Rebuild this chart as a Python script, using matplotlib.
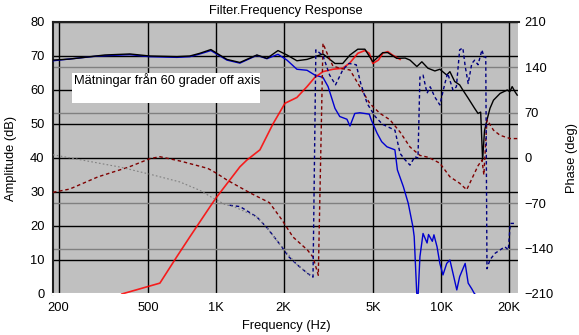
import matplotlib
matplotlib.use("Agg")
import matplotlib.pyplot as plt
from matplotlib.patches import Rectangle
import numpy as np

plt.rcParams['font.family'] = ['Liberation Sans', 'DejaVu Sans']
plt.rcParams['font.size'] = 9.3

# total response (black)
sum_f = [189, 224, 321, 415, 509, 671, 766, 849, 950, 1119, 1278, 1521, 1685, 1887,
         2068, 2290, 2540, 2990, 3380, 3660, 3940, 4270, 4590, 4980, 5510, 5800,
         6360, 6930, 7280, 7810, 8220, 8750, 9390, 9880, 10600, 10950, 11500, 12100,
         12500, 13200, 14100, 14600, 15000, 15300, 15600, 16000, 16500, 17100, 18300,
         19700, 20200, 20700, 21300, 21800]
sum_db = [68.8, 69.1, 70.3, 70.6, 70.0, 69.8, 70.0, 70.8, 71.9, 69.0, 68.1, 70.3, 69.3, 71.6,
          70.3, 68.6, 69.0, 70.6, 67.8, 67.8, 70.3, 72.0, 72.0, 68.3, 71.0, 71.0,
          69.3, 69.4, 68.8, 66.9, 68.3, 66.4, 65.6, 66.1, 64.4, 65.4, 62.5, 61.5,
          60.0, 57.6, 54.6, 53.1, 53.5, 39.4, 48.0, 51.2, 54.6, 57.0, 59.0,
          60.0, 59.5, 61.0, 59.5, 58.5]

# woofer (blue)
woof_f = [189, 300, 415, 509, 671, 766, 849, 950, 1119, 1278, 1521, 1685, 1887, 2068,
          2290, 2540, 2750, 2990, 3150, 3380, 3550, 3820, 3940, 4140, 4360, 4800, 4900,
          5200, 5450, 5750, 6240, 6400, 6800, 7150, 7500, 7600, 7800, 7900, 8060, 8320,
          8670, 8800, 9150, 9300, 9600, 9880, 10200, 10600, 10950, 11300, 11750, 12100,
          12800, 13200, 13700, 14100, 15300]
woof_db = [68.6, 70.0, 70.4, 69.8, 69.6, 69.8, 70.6, 71.6, 68.8, 67.9, 70.2, 69.2, 70.5, 68.8,
           66.1, 65.8, 64.4, 63.7, 61.0, 54.6, 52.2, 51.4, 49.4, 53.1, 53.3, 52.9, 51.2,
           47.3, 44.8, 43.3, 42.4, 36.5, 31.6, 26.7, 19.8, 16.9, 0.3, -1.0, 11.0, 17.8,
           15.0, 17.5, 15.5, 17.4, 13.9, 9.0, 5.6, 9.0, 10.0, 6.1, 1.2, 5.1,
           9.0, 3.2, 1.5, 0.0, -1.0]

# tweeter (red)
tw_f = [382, 564, 671, 766, 940, 1000, 1278, 1373, 1569, 1792, 2027, 2290, 2540, 2750,
        2990, 3310, 3660, 3940, 4270, 4590, 4800, 4980, 5270, 5510, 5800, 6080, 6580]
tw_db = [0.0, 3.2, 11.0, 16.8, 25.6, 28.2, 37.4, 39.4, 42.4, 50.0, 56.1, 57.8, 61.0, 63.7,
         65.4, 66.1, 66.4, 68.0, 70.8, 71.6, 70.8, 67.8, 68.8, 70.8, 71.3, 70.3, 69.0]

# phase curves (deg)
tot_ph_f = [189, 253, 375, 509, 692, 850, 950, 1100, 1200, 1520, 1690, 1960, 2300, 2600]
tot_ph = [5, -3, -14, -25, -37, -50, -60, -72, -75, -91, -108, -137, -165, -180]

woof_ph_f = [1150, 1280, 1520, 1690, 1960, 2100, 2300, 2550, 2700, 2780, 2990, 3200, 3400,
             3660, 3900, 4200, 4400, 4700, 5100, 5500, 6240, 6580, 6930, 7280, 7650, 7900,
             8060, 8320, 8670, 8950, 9390, 9880, 10400, 10700, 11300, 11700, 12100, 12500,
             12800, 13200, 13700, 14100, 14600, 15200, 15500, 15800, 16000, 16500, 17400,
             18300, 19200, 19900, 20300, 21300]
woof_ph = [-73, -75, -91, -108, -137, -152, -165, -178, -184, 167, 158, 128, 113,
           136, 146, 144, 115, 84, 64, 52, 43, 7, -3, -11, 2, 0,
           125, 128, 100, 110, 94, 82, 115, 131, 105, 110, 167, 170,
           142, 115, 146, 151, 144, 167, 156, 156, -171, -157, -147,
           -142, -137, -142, -101, -101]

tw_ph_f = [189, 224, 300, 410, 509, 564, 700, 920, 1000, 1120, 1420, 1730, 1960, 2200,
           2550, 2700, 2850, 2990, 3150, 3310, 3600, 3940, 4360, 4830, 5350, 5930, 6580,
           7280, 8060, 8800, 9880, 10950, 12100, 13000, 13800, 14600, 15200, 15500, 16000,
           17100, 18300, 20300, 21800]
tw_ph = [-53, -48, -29, -14, -1, 2, -5, -16, -23, -34, -54, -69, -95, -122,
         -142, -153, -181, 177, 158, 142, 138, 136, 110, 84, 69, 59, 40,
         17, 4, 1, -8, -29, -39, -49, -30, -12, -3, -26, 59,
         43, 35, 30, 30]

xticks = [200, 500, 1000, 2000, 5000, 10000, 20000]
xticklabels = ['200', '500', '1K', '2K', '5K', '10K', '20K']
db_ticks = list(range(0, 81, 10))
phase_ticks = list(range(-210, 211, 70))

fig = plt.figure(figsize=(5.79, 3.35), dpi=100)
ax = fig.add_axes([53 / 579, 41 / 335, 466 / 579, 272 / 335])
ax.set_facecolor('#c0c0c0')
ax.set_xscale('log')
ax.set_xlim(189, 22200)
ax.set_ylim(0, 80)

ax.set_xticks(xticks)
ax.set_xticklabels(xticklabels)
ax.xaxis.set_minor_locator(matplotlib.ticker.NullLocator())
ax.set_yticks(db_ticks)
# phase grid lines, placed in dB units
ax.set_yticks([40 + p * 80 / 420 for p in phase_ticks], minor=True)
ax.tick_params(which='both', length=0)
ax.tick_params(axis='y', pad=6)
ax.tick_params(axis='x', pad=6)
ax.grid(True, which='major', color='black', linewidth=1.0)
ax.grid(True, which='minor', axis='y', color='#808080', linewidth=1.0)
ax.set_axisbelow(True)

for side in ['left', 'top']:
    ax.spines[side].set_color('#202020')
    ax.spines[side].set_linewidth(1.5)
for side in ['right', 'bottom']:
    ax.spines[side].set_color('white')
    ax.spines[side].set_linewidth(1.5)

ax.plot(woof_f, woof_db, color='#0000d0', lw=1.0, zorder=3)
ax.plot(tw_f, tw_db, color='#ff0000', lw=1.2, alpha=0.85, zorder=3)
ax.plot(sum_f, sum_db, color='black', lw=1.0, zorder=4)

ax.add_patch(Rectangle((0.041, 0.702), 0.403, 0.11, transform=ax.transAxes,
                       facecolor='white', edgecolor='none', zorder=5))
ax.text(0.045, 0.787, 'Mätningar från 60 grader off axis', transform=ax.transAxes,
        ha='left', va='center', zorder=6)

ax2 = ax.twinx()
ax2.set_ylim(-210, 210)
ax2.set_yticks(phase_ticks)
ax2.tick_params(length=0, pad=4)
for s in ax2.spines.values():
    s.set_visible(False)

ax2.plot(tw_ph_f, tw_ph, color='#800000', lw=1.0, linestyle=(0, (2.5, 2)))
ax2.plot(woof_ph_f, woof_ph, color='#000080', lw=1.0, linestyle=(0, (2.5, 2)))
ax2.plot(tot_ph_f, tot_ph, color='#808080', lw=0.8, linestyle=(0, (1.5, 2)))

ax.set_ylabel('Amplitude (dB)')
ax.yaxis.set_label_coords(-0.078, 0.5)
ax2.set_ylabel('Phase (deg)')
ax2.yaxis.set_label_coords(1.1, 0.5)
ax.set_xlabel('Frequency (Hz)')
ax.xaxis.set_label_coords(0.5, -0.095)
fig.text(286 / 579, 1 - 11 / 335, 'Filter.Frequency Response', ha='center', va='center')

fig.savefig('out.png', dpi=100, facecolor='white')
